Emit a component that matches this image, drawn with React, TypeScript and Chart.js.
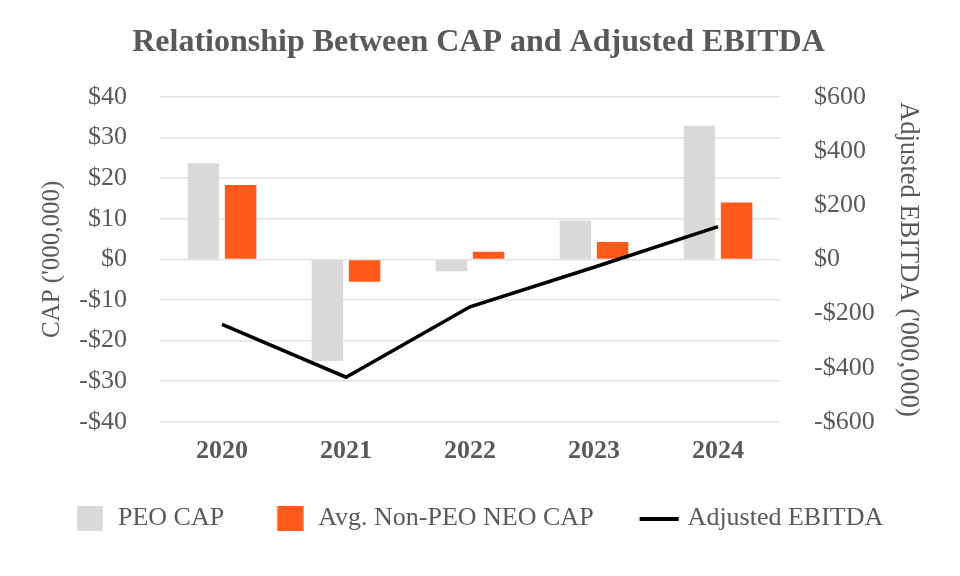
import React, { useEffect, useRef } from 'react';
import { Chart, registerables } from 'chart.js';

Chart.register(...registerables);

const chartTitle = 'Relationship Between CAP and Adjusted EBITDA';
const categories = ['2020', '2021', '2022', '2023', '2024'];
const seriesNames = ['PEO CAP', 'Avg. Non-PEO NEO CAP', 'Adjusted EBITDA'];
const peoCap = [23.7, -25.0, -2.9, 9.6, 32.9];
const neoCap = [18.3, -5.5, 1.9, 4.3, 14.0];
const adjustedEbitda = [-240, -435, -175, -29, 121];
const leftTickValues = [-40, -30, -20, -10, 0, 10, 20, 30, 40];
const rightTickValues = [-600, -400, -200, 0, 200, 400, 600];
const leftAxisTitle = "CAP ('000,000)";
const rightAxisTitle = "Adjusted EBITDA ('000,000)";

const FONT = "'Liberation Serif', 'Times New Roman', serif";
const TEXT = '#595959';
const GRAY = '#D9D9D9';
const ORANGE = '#FF5A1A';

const PAD_L = 24;
const PAD_R = 27;
const PAD_B = 34.5;
const LEG_PAD = 25.65;
const LEG_BOX = 81 - LEG_PAD;

const money = (v: number) => (v < 0 ? '-$' : '$') + Math.abs(v);

// marker drawn relative to the legend text start (a..b px before the text)
function marker(a: number, b: number, h: number, color: string) {
  const relA = a + LEG_BOX / 2 + 13;
  const relB = b + LEG_BOX / 2 + 13;
  const half = Math.ceil(Math.max(Math.abs(relA), Math.abs(relB)));
  const c = document.createElement('canvas');
  c.width = half * 2;
  c.height = h;
  const ctx = c.getContext('2d');
  if (ctx) {
    ctx.fillStyle = color;
    ctx.fillRect(half + relA, 0, relB - relA, h);
  }
  return c;
}

export default function App() {
  const ref = useRef<HTMLCanvasElement | null>(null);

  useEffect(() => {
    document.body.style.margin = '0';
    if (!ref.current) return;
    const markers = [
      marker(-41, -15, 25, GRAY),
      marker(-41, -15, 25, ORANGE),
      marker(-48, -9, 4, '#000000'),
    ];
    const chart = new Chart(ref.current, {
      type: 'bar',
      data: {
        labels: categories,
        datasets: [
          {
            type: 'bar',
            label: seriesNames[0],
            data: peoCap,
            backgroundColor: GRAY,
            yAxisID: 'y',
            order: 1,
            categoryPercentage: 0.6,
            barPercentage: 0.847,
          },
          {
            type: 'bar',
            label: seriesNames[1],
            data: neoCap,
            backgroundColor: ORANGE,
            yAxisID: 'y',
            order: 1,
            categoryPercentage: 0.6,
            barPercentage: 0.847,
          },
          {
            type: 'line',
            label: seriesNames[2],
            data: adjustedEbitda,
            borderColor: '#000000',
            backgroundColor: '#000000',
            borderWidth: 3.5,
            pointRadius: 0,
            tension: 0,
            yAxisID: 'y1',
            order: 0,
          } as any,
        ],
      },
      options: {
        animation: false,
        responsive: true,
        maintainAspectRatio: false,
        layout: { padding: { left: PAD_L, right: PAD_R, top: 0, bottom: PAD_B } },
        plugins: {
          title: {
            display: true,
            text: chartTitle,
            color: TEXT,
            font: { family: FONT, size: 32, weight: 'bold' },
            padding: { top: 23.8, bottom: 34.8 },
          },
          legend: {
            position: 'bottom',
            align: 'start',
            labels: {
              usePointStyle: true,
              pointStyleWidth: LEG_BOX,
              padding: LEG_PAD,
              color: TEXT,
              font: { family: FONT, size: 26 },
              generateLabels: (c: any) =>
                c.data.datasets.map((ds: any, i: number) => ({
                  text: ds.label,
                  pointStyle: markers[i],
                  fillStyle: 'rgba(0,0,0,0)',
                  strokeStyle: 'rgba(0,0,0,0)',
                  lineWidth: 0,
                  hidden: !c.isDatasetVisible(i),
                  datasetIndex: i,
                  fontColor: TEXT,
                })),
            },
          },
          tooltip: { enabled: false },
        },
        scales: {
          x: {
            grid: { display: false, drawTicks: false },
            border: { display: false },
            ticks: {
              color: TEXT,
              padding: 21.85,
              font: { family: FONT, size: 26, weight: 'bold', lineHeight: 0.55 },
            },
          },
          y: {
            position: 'left',
            min: -40,
            max: 40,
            afterBuildTicks: (axis: any) => {
              axis.ticks = leftTickValues.map((v) => ({ value: v }));
            },
            afterFit: (axis: any) => {
              axis.width = 160 - PAD_L;
            },
            grid: { color: '#E2E2E2', lineWidth: 1.5, drawTicks: false },
            border: { display: false },
            ticks: {
              color: TEXT,
              padding: 33,
              font: { family: FONT, size: 26 },
              callback: (v: any) => money(Number(v)),
            },
            title: {
              display: true,
              text: leftAxisTitle,
              color: TEXT,
              font: { family: FONT, size: 25 },
              padding: { top: 13.5, bottom: 0 },
            },
          },
          y1: {
            position: 'right',
            min: -600,
            max: 600,
            afterBuildTicks: (axis: any) => {
              axis.ticks = rightTickValues.map((v) => ({ value: v }));
            },
            afterFit: (axis: any) => {
              axis.width = 960 - PAD_R - 780;
            },
            grid: { display: false, drawTicks: false },
            border: { display: false },
            ticks: {
              color: TEXT,
              padding: 34,
              font: { family: FONT, size: 26 },
              callback: (v: any) => money(Number(v)),
            },
            title: {
              display: true,
              text: rightAxisTitle,
              color: TEXT,
              font: { family: FONT, size: 26.5 },
              padding: { top: 9.6, bottom: 0 },
            },
          },
        },
      } as any,
    });
    return () => chart.destroy();
  }, []);

  return (
    <div style={{ position: 'relative', width: 960, height: 576 }}>
      <canvas ref={ref} />
    </div>
  );
}
